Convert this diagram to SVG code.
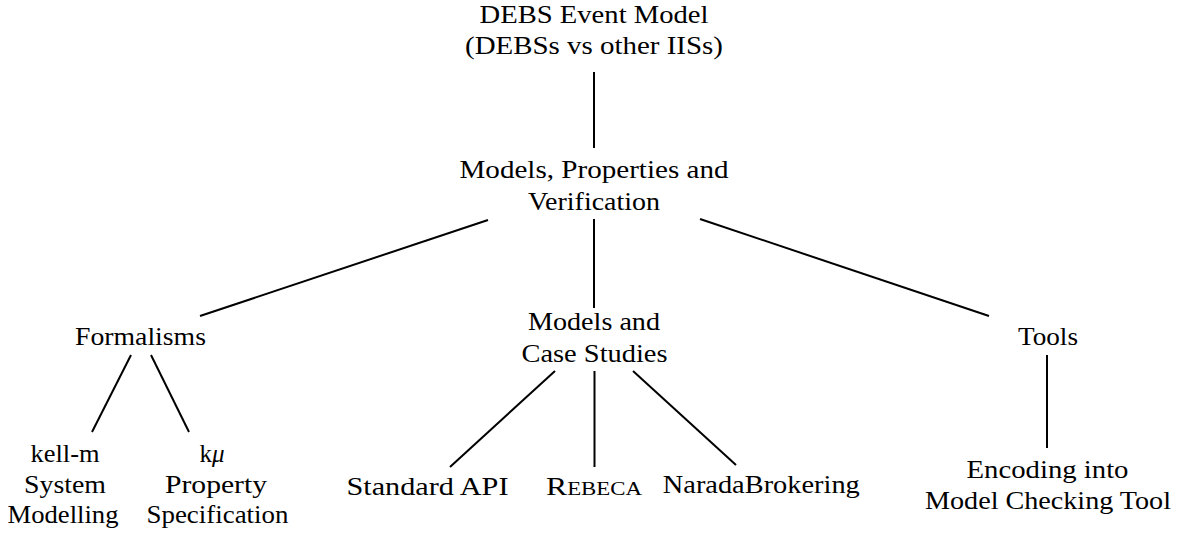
<svg xmlns="http://www.w3.org/2000/svg" width="1185" height="533" viewBox="0 0 1185 533">
<style>
.c line{stroke:#000;stroke-width:2;stroke-linecap:butt}
</style>
<rect width="1185" height="533" fill="#fff"/>
<g class="c" id="connectors">
<line x1="594" y1="72" x2="594" y2="148"/>
<line x1="488" y1="220" x2="200" y2="316"/>
<line x1="594" y1="219" x2="594" y2="308"/>
<line x1="700" y1="219" x2="989" y2="316"/>
<line x1="131" y1="355" x2="92" y2="432"/>
<line x1="151" y1="355" x2="189" y2="432"/>
<line x1="555" y1="371" x2="450" y2="467"/>
<line x1="594.5" y1="371" x2="594.5" y2="467"/>
<line x1="633" y1="371" x2="736" y2="465"/>
<line x1="1047" y1="355" x2="1047" y2="448"/>
</g>
<g font-family="Liberation Serif" font-size="25" text-anchor="middle" fill="#000">
<g id="root">
<text x="594" y="23" textLength="229" lengthAdjust="spacingAndGlyphs">DEBS Event Model</text>
<text x="594" y="53.5" textLength="258" lengthAdjust="spacingAndGlyphs">(DEBSs vs other IISs)</text>
</g>
<g id="mpv">
<text x="594" y="178" textLength="269" lengthAdjust="spacingAndGlyphs">Models, Properties and</text>
<text x="594" y="209.5" textLength="132" lengthAdjust="spacingAndGlyphs">Verification</text>
</g>
<g id="formalisms">
<text x="140.5" y="345" textLength="131" lengthAdjust="spacingAndGlyphs">Formalisms</text>
</g>
<g id="mcs">
<text x="594" y="329.5" textLength="132" lengthAdjust="spacingAndGlyphs">Models and</text>
<text x="594.5" y="361.5" textLength="146" lengthAdjust="spacingAndGlyphs">Case Studies</text>
</g>
<g id="tools">
<text x="1048" y="345" textLength="60" lengthAdjust="spacingAndGlyphs">Tools</text>
</g>
<g id="kellm">
<text x="65" y="462" textLength="69" lengthAdjust="spacingAndGlyphs">kell-m</text>
<text x="65" y="493" textLength="82" lengthAdjust="spacingAndGlyphs">System</text>
<text x="63" y="523" textLength="111" lengthAdjust="spacingAndGlyphs">Modelling</text>
</g>
<g id="kmu">
<text x="212" y="462">k<tspan font-style="italic">μ</tspan></text>
<text x="216" y="493" textLength="102" lengthAdjust="spacingAndGlyphs">Property</text>
<text x="217.5" y="523" textLength="142" lengthAdjust="spacingAndGlyphs">Specification</text>
</g>
<g id="standardapi">
<text x="427.5" y="495" textLength="162" lengthAdjust="spacingAndGlyphs">Standard API</text>
</g>
<g id="rebeca">
<text x="594" y="495" font-variant="small-caps" textLength="96" lengthAdjust="spacingAndGlyphs">Rebeca</text>
</g>
<g id="narada">
<text x="761.3" y="493" textLength="197" lengthAdjust="spacingAndGlyphs">NaradaBrokering</text>
</g>
<g id="encoding">
<text x="1047.5" y="478" textLength="162" lengthAdjust="spacingAndGlyphs">Encoding into</text>
<text x="1048" y="508.5" textLength="246" lengthAdjust="spacingAndGlyphs">Model Checking Tool</text>
</g>
</g>
</svg>
